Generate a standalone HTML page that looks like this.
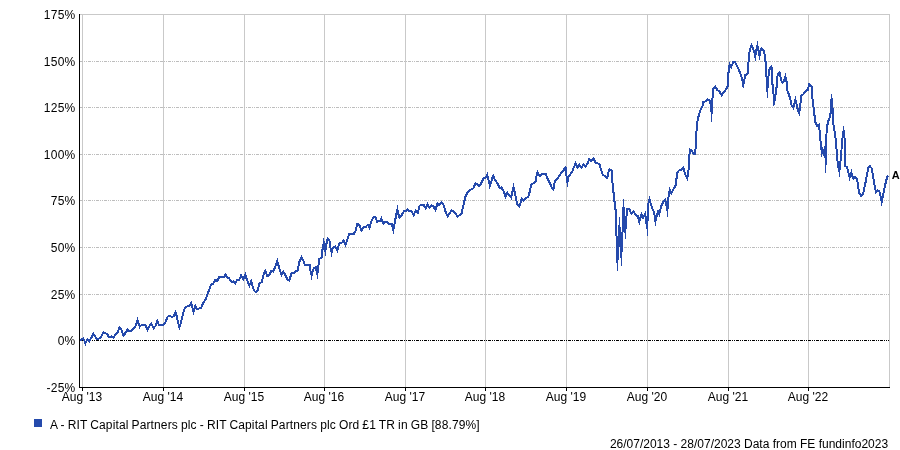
<!DOCTYPE html><html><head><meta charset="utf-8"><style>html,body{margin:0;padding:0;background:#fff}body{width:900px;height:450px;overflow:hidden}svg{display:block;will-change:transform}text{font-family:"Liberation Sans",sans-serif;font-size:12px;fill:#000}</style></head><body>
<svg width="900" height="450" viewBox="0 0 900 450">
<rect width="900" height="450" fill="#fff"/>
<rect x="82" y="14" width="1" height="373" fill="#c9c9c9"/>
<rect x="163" y="14" width="1" height="373" fill="#c9c9c9"/>
<rect x="244" y="14" width="1" height="373" fill="#c9c9c9"/>
<rect x="324" y="14" width="1" height="373" fill="#c9c9c9"/>
<rect x="405" y="14" width="1" height="373" fill="#c9c9c9"/>
<rect x="485" y="14" width="1" height="373" fill="#c9c9c9"/>
<rect x="566" y="14" width="1" height="373" fill="#c9c9c9"/>
<rect x="647" y="14" width="1" height="373" fill="#c9c9c9"/>
<rect x="728" y="14" width="1" height="373" fill="#c9c9c9"/>
<rect x="808" y="14" width="1" height="373" fill="#c9c9c9"/>
<rect x="80" y="14" width="810" height="1" fill="#c9c9c9"/>
<rect x="889" y="14" width="1" height="374" fill="#c9c9c9"/>
<line x1="80" y1="61.5" x2="889" y2="61.5" stroke="#bdbdbd" stroke-width="1" stroke-dasharray="3 1 1 1 1 1" shape-rendering="crispEdges"/>
<line x1="80" y1="107.5" x2="889" y2="107.5" stroke="#bdbdbd" stroke-width="1" stroke-dasharray="3 1 1 1 1 1" shape-rendering="crispEdges"/>
<line x1="80" y1="154.5" x2="889" y2="154.5" stroke="#bdbdbd" stroke-width="1" stroke-dasharray="3 1 1 1 1 1" shape-rendering="crispEdges"/>
<line x1="80" y1="200.5" x2="889" y2="200.5" stroke="#bdbdbd" stroke-width="1" stroke-dasharray="3 1 1 1 1 1" shape-rendering="crispEdges"/>
<line x1="80" y1="247.5" x2="889" y2="247.5" stroke="#bdbdbd" stroke-width="1" stroke-dasharray="3 1 1 1 1 1" shape-rendering="crispEdges"/>
<line x1="80" y1="294.5" x2="889" y2="294.5" stroke="#bdbdbd" stroke-width="1" stroke-dasharray="3 1 1 1 1 1" shape-rendering="crispEdges"/>
<line x1="80" y1="340.5" x2="889" y2="340.5" stroke="#000" stroke-width="1" stroke-dasharray="3 1 1 1 1 1" shape-rendering="crispEdges"/>
<rect x="79" y="14" width="1" height="374" fill="#000"/>
<rect x="79" y="387" width="811" height="1" fill="#000"/>
<rect x="82" y="387" width="1" height="4" fill="#000"/>
<rect x="163" y="387" width="1" height="4" fill="#000"/>
<rect x="244" y="387" width="1" height="4" fill="#000"/>
<rect x="324" y="387" width="1" height="4" fill="#000"/>
<rect x="405" y="387" width="1" height="4" fill="#000"/>
<rect x="485" y="387" width="1" height="4" fill="#000"/>
<rect x="566" y="387" width="1" height="4" fill="#000"/>
<rect x="647" y="387" width="1" height="4" fill="#000"/>
<rect x="728" y="387" width="1" height="4" fill="#000"/>
<rect x="808" y="387" width="1" height="4" fill="#000"/>
<text x="75.6" y="18.5" text-anchor="end" style="letter-spacing:0.3px">175%</text>
<text x="75.6" y="65.5" text-anchor="end" style="letter-spacing:0.3px">150%</text>
<text x="75.6" y="111.5" text-anchor="end" style="letter-spacing:0.3px">125%</text>
<text x="75.6" y="158.5" text-anchor="end" style="letter-spacing:0.3px">100%</text>
<text x="75.6" y="204.5" text-anchor="end" style="letter-spacing:0.3px">75%</text>
<text x="75.6" y="251.5" text-anchor="end" style="letter-spacing:0.3px">50%</text>
<text x="75.6" y="298.5" text-anchor="end" style="letter-spacing:0.3px">25%</text>
<text x="75.6" y="344.5" text-anchor="end" style="letter-spacing:0.3px">0%</text>
<text x="75.6" y="391.5" text-anchor="end" style="letter-spacing:0.3px">-25%</text>
<text x="82" y="400.8" text-anchor="middle">Aug '13</text>
<text x="163" y="400.8" text-anchor="middle">Aug '14</text>
<text x="244" y="400.8" text-anchor="middle">Aug '15</text>
<text x="324" y="400.8" text-anchor="middle">Aug '16</text>
<text x="405" y="400.8" text-anchor="middle">Aug '17</text>
<text x="485" y="400.8" text-anchor="middle">Aug '18</text>
<text x="566" y="400.8" text-anchor="middle">Aug '19</text>
<text x="647" y="400.8" text-anchor="middle">Aug '20</text>
<text x="728" y="400.8" text-anchor="middle">Aug '21</text>
<text x="808" y="400.8" text-anchor="middle">Aug '22</text>
<path d="M80.2,340.2 L83.1,338.5 L84.6,341.0 L85.4,343.6 L86.2,341.5 L87.4,339.3 L89.3,341.3 L91.4,337.5 L93.5,333.8 L95.0,336.5 L97.4,339.1 L100.4,337.8 L102.0,335.0 L103.5,332.5 L105.3,333.2 L107.1,334.1 L109.3,337.4 L111.5,336.4 L113.5,337.4 L116.0,333.8 L118.0,331.7 L119.4,327.6 L121.3,329.5 L123.4,335.9 L125.2,333.3 L127.5,329.7 L129.1,331.4 L131.3,330.8 L133.6,328.3 L135.8,325.6 L137.5,320.3 L138.9,324.4 L139.8,326.8 L141.4,325.1 L143.6,325.3 L145.5,325.1 L147.5,330.0 L149.1,326.7 L151.3,323.8 L153.6,328.2 L155.8,325.6 L157.3,321.0 L158.9,324.9 L163.0,325.0 L165.8,321.7 L167.5,316.7 L169.7,316.1 L171.9,317.0 L173.8,316.1 L175.5,312.5 L176.7,316.1 L178.2,323.3 L179.4,327.1 L180.8,322.8 L182.4,316.1 L184.5,308.9 L185.8,307.0 L188.6,305.9 L190.2,305.0 L191.2,303.3 L192.7,308.3 L193.6,311.8 L194.4,308.9 L195.3,306.0 L196.3,307.8 L197.5,309.3 L199.1,308.6 L201.3,307.7 L203.0,303.3 L205.8,298.9 L208.0,292.8 L210.2,287.2 L211.1,284.5 L213.3,283.6 L215.3,279.9 L217.2,280.9 L219.3,276.8 L221.7,276.9 L224.1,276.6 L225.3,274.5 L227.2,277.2 L229.2,278.3 L231.2,281.6 L233.3,281.5 L235.2,283.7 L237.3,279.6 L239.2,279.9 L241.1,275.6 L243.3,279.2 L245.2,274.5 L247.0,280.0 L249.4,285.5 L251.2,281.3 L252.8,287.2 L254.5,291.1 L255.9,292.4 L257.5,290.8 L259.5,283.4 L261.6,282.2 L263.9,273.9 L265.3,271.0 L267.3,276.0 L268.9,275.5 L271.4,270.7 L273.2,271.7 L275.6,265.6 L277.3,260.8 L279.2,268.3 L281.5,274.7 L283.3,271.6 L285.2,275.0 L287.5,279.4 L289.3,280.3 L291.5,273.4 L293.9,272.8 L295.6,271.4 L297.7,270.3 L299.4,261.7 L301.5,257.2 L303.6,261.3 L304.9,265.1 L307.4,265.2 L309.6,265.0 L310.4,270.2 L311.6,275.6 L312.7,271.3 L314.1,267.8 L315.7,267.3 L316.7,271.3 L317.3,274.0 L318.2,268.0 L319.2,259.1 L321.5,257.7 L322.4,250.2 L323.7,242.6 L324.7,247.8 L325.3,250.9 L326.3,244.4 L327.6,238.6 L329.6,241.1 L330.4,247.8 L331.6,252.7 L332.7,248.3 L335.2,246.4 L337.3,250.3 L339.2,243.4 L342.4,242.4 L343.5,240.6 L345.5,244.8 L346.9,240.6 L349.2,234.0 L353.6,233.9 L353.9,233.8 L355.6,230.6 L357.4,223.7 L359.4,225.0 L361.5,230.3 L363.4,227.3 L365.5,227.2 L367.7,224.8 L369.5,227.8 L371.1,222.2 L373.4,217.1 L375.5,217.3 L377.1,221.6 L380.0,221.4 L381.4,218.4 L383.4,223.9 L385.3,221.6 L387.2,222.2 L389.5,224.4 L391.6,223.6 L393.3,230.3 L394.8,222.8 L396.1,215.0 L397.4,209.4 L398.3,213.9 L399.5,217.3 L401.7,215.0 L403.9,211.2 L406.1,210.8 L407.8,209.4 L409.5,211.1 L411.6,211.5 L413.6,215.3 L415.6,210.9 L417.7,212.9 L419.7,205.6 L421.7,205.0 L423.9,205.3 L425.7,208.5 L427.5,203.9 L429.5,208.0 L431.7,205.7 L433.7,206.7 L435.4,210.0 L437.6,203.4 L439.4,205.0 L441.5,202.2 L443.3,204.4 L443.6,205.0 L445.6,211.7 L447.5,216.2 L449.7,213.3 L451.4,210.2 L453.5,211.1 L455.8,213.9 L457.5,216.5 L459.7,215.2 L461.5,213.9 L462.7,208.3 L464.1,202.8 L465.2,197.0 L467.1,193.3 L469.7,190.6 L471.9,188.9 L473.5,188.3 L475.3,183.3 L477.4,184.4 L479.6,186.1 L481.9,181.7 L483.6,178.1 L485.7,177.4 L485.8,177.2 L487.2,174.6 L488.6,180.0 L489.9,185.9 L491.1,182.8 L492.2,177.8 L493.3,175.9 L494.7,179.4 L497.4,183.3 L499.7,188.2 L501.5,187.4 L503.8,191.7 L505.6,196.7 L507.2,192.7 L509.1,195.0 L511.1,197.5 L512.7,190.0 L513.5,187.1 L514.7,192.2 L516.3,200.0 L517.5,204.4 L519.5,206.3 L521.7,198.8 L523.3,200.4 L525.8,197.8 L528.2,197.2 L529.7,191.7 L531.4,184.5 L533.6,183.1 L535.8,181.1 L536.9,173.9 L537.6,172.2 L538.9,175.5 L540.0,176.4 L541.9,173.9 L545.7,174.0 L547.4,178.3 L550.2,183.9 L552.2,188.3 L553.4,189.3 L554.9,180.6 L557.1,178.9 L560.2,174.4 L563.0,171.1 L565.2,167.6 L565.6,167.5 L566.6,176.7 L567.5,182.3 L568.6,176.7 L570.2,174.4 L572.4,171.1 L574.1,166.7 L575.6,163.2 L576.9,166.1 L576.9,166.7 L577.4,167.4 L579.3,164.8 L581.5,167.5 L583.6,164.7 L585.7,166.4 L587.8,162.8 L589.2,158.8 L591.3,161.2 L593.5,158.7 L595.6,162.5 L597.4,163.3 L599.6,164.5 L601.3,170.6 L603.0,175.0 L605.2,176.1 L607.3,177.9 L608.6,171.7 L609.7,169.2 L611.8,170.6 L612.4,180.6 L612.9,191.3 L613.1,191.4 L614.0,193.3 L614.0,201.0 L615.2,202.2 L615.2,209.4 L616.3,210.6 L616.3,225.0 L616.6,240.0 L617.4,262.9 L618.4,240.0 L619.4,225.0 L620.4,245.0 L621.2,257.9 L622.4,235.0 L623.5,206.9 L624.5,225.0 L625.3,231.2 L626.2,222.0 L626.8,210.0 L627.5,208.6 L629.1,208.7 L631.4,214.0 L633.6,211.4 L635.8,215.0 L637.8,216.1 L639.3,222.0 L641.4,214.4 L643.0,217.6 L645.2,213.8 L647.1,228.4 L648.6,201.7 L649.4,199.2 L650.8,203.9 L652.4,208.9 L654.1,212.2 L655.5,221.5 L656.9,215.0 L658.1,211.6 L659.2,214.5 L661.3,206.1 L663.6,201.1 L665.3,199.8 L666.9,207.2 L667.4,210.3 L668.6,196.1 L669.7,190.1 L671.3,193.5 L673.6,188.9 L675.8,185.0 L676.4,180.0 L676.9,173.3 L678.9,170.6 L681.7,169.4 L683.2,167.7 L685.6,175.0 L687.2,178.4 L688.3,172.2 L689.1,164.4 L689.4,156.7 L689.7,149.3 L691.7,150.6 L693.4,153.8 L695.2,154.2 L696.1,139.4 L696.9,123.9 L698.3,117.2 L700.0,111.7 L701.7,107.2 L703.3,105.0 L703.4,101.8 L706.1,101.4 L707.5,99.1 L710.0,100.6 L711.1,108.3 L711.7,114.0 L712.2,108.3 L712.8,89.5 L715.2,86.3 L717.2,90.0 L719.2,91.1 L721.5,95.2 L723.9,92.2 L726.1,89.4 L727.8,86.1 L728.3,75.0 L728.9,68.3 L729.7,64.6 L731.1,67.3 L733.1,62.3 L734.9,61.8 L737.2,66.1 L740.0,72.8 L742.2,79.4 L743.1,84.4 L743.2,84.9 L743.9,81.7 L745.4,75.0 L747.5,74.1 L748.3,65.0 L749.1,53.9 L750.6,47.2 L751.6,45.0 L753.3,49.4 L754.7,53.9 L755.3,56.5 L756.7,48.3 L757.4,45.5 L758.3,49.4 L759.5,55.7 L760.6,50.6 L761.7,48.2 L763.9,50.6 L765.0,57.2 L765.8,63.9 L766.4,73.9 L767.0,88.3 L767.3,90.3 L768.9,71.7 L770.0,67.8 L771.5,66.5 L772.2,71.7 L772.4,83.9 L772.8,86.1 L774.2,102.2 L775.0,99.4 L776.7,86.1 L777.2,77.2 L778.3,73.3 L779.6,72.2 L780.9,79.4 L782.3,82.5 L783.9,81.6 L785.4,76.7 L786.7,82.2 L787.2,90.0 L788.9,94.4 L790.6,100.0 L791.7,105.6 L793.2,107.5 L794.7,102.2 L795.5,99.7 L796.7,104.4 L797.8,110.0 L799.1,113.0 L800.2,106.7 L801.2,95.6 L803.3,94.4 L805.6,91.1 L807.7,90.0 L809.2,84.2 L810.6,85.0 L811.9,86.7 L812.2,96.7 L813.3,104.4 L813.9,111.1 L815.0,118.9 L815.3,122.2 L817.3,126.3 L819.1,124.7 L820.0,136.7 L821.1,146.7 L821.9,152.7 L822.7,150.0 L823.9,154.0 L824.7,150.3 L825.8,160.0 L825.7,165.1 L826.1,146.7 L826.7,127.8 L828.3,121.1 L830.0,116.7 L831.1,110.0 L830.9,102.2 L831.6,98.6 L832.2,102.2 L832.8,113.3 L833.3,123.3 L834.7,132.2 L835.8,140.0 L836.7,151.1 L837.2,158.9 L838.3,166.7 L839.3,171.2 L840.2,164.4 L841.1,155.6 L841.7,146.7 L842.8,135.6 L843.6,130.8 L844.4,134.4 L845.0,151.1 L845.1,166.1 L847.2,167.3 L848.3,172.2 L849.6,177.7 L850.6,174.4 L851.3,172.3 L852.2,175.6 L853.4,178.9 L855.0,176.9 L856.6,178.3 L857.8,183.3 L858.9,192.2 L861.1,196.2 L863.3,193.3 L864.4,187.8 L865.6,182.2 L867.2,173.9 L868.3,167.8 L869.8,166.1 L871.7,168.3 L872.8,174.4 L873.9,181.1 L875.0,187.8 L876.2,192.3 L877.8,190.6 L879.4,191.2 L880.6,196.7 L881.7,201.7 L882.8,196.7 L883.9,191.1 L885.0,185.6 L886.1,181.1 L887.2,176.7 L888.3,175.8" fill="none" stroke="#254aac" stroke-width="2" stroke-linejoin="miter" stroke-miterlimit="10" shape-rendering="crispEdges"/>
<path d="M612.9,191.3 L613.0,192.8 M613.1,191.4 L612.7,190.0 M617.4,262.9 L617.4,270.6 M619.4,225.0 L619.5,217.3 M621.2,257.9 L621.3,265.6 M623.5,206.9 L623.5,199.2 M647.1,228.4 L647.4,236.1 M711.7,114.0 L711.7,121.7 M825.7,165.1 L825.6,172.8" fill="none" stroke="#254aac" stroke-width="1" shape-rendering="crispEdges"/>
<text x="891.7" y="179.4" style="font-weight:bold;font-size:11px">A</text>
<rect x="34" y="419" width="8" height="8" fill="#254aac"/>
<text x="50" y="428.5" style="letter-spacing:0.125px;word-spacing:-0.4px">A - RIT Capital Partners plc - RIT Capital Partners plc Ord £1 TR in GB [88.79%]</text>
<text x="888.1" y="447.5" text-anchor="end">26/07/2013 - 28/07/2023 Data from FE fundinfo2023</text>
</svg></body></html>
